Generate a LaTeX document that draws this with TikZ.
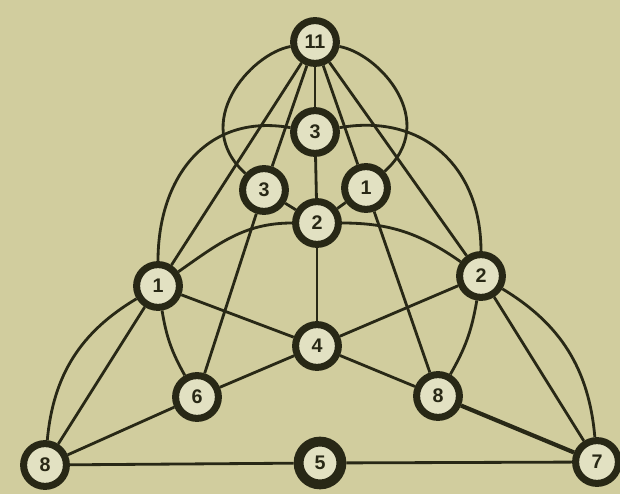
\documentclass[tikz,border=0pt]{standalone}
\usepackage{fontspec}
\setmainfont{Liberation Sans}
\usepackage{tikz}
\definecolor{paper}{RGB}{209,205,158}
\definecolor{ink}{RGB}{40,40,22}
\definecolor{disc}{RGB}{226,225,194}

\begin{document}
\begin{tikzpicture}[
  x=0.025cm, y=0.025cm,
  vtx/.style={circle, draw=ink, fill=disc, line width=5pt, minimum size=1.07cm, inner sep=0pt, text=ink, font=\fontsize{14}{14}\selectfont\bfseries},
  heavy/.style={vtx, line width=7pt},
  link/.style={draw=ink, line width=2pt},
  strong/.style={link, line width=3pt}
]
\fill[paper] (0,0) rectangle (620,494);
\useasboundingbox (0,0) rectangle (620,494);

\node[vtx] (top) at (315,452) {11};
\node[vtx] (mid3) at (315,362) {3};
\node[vtx] (left3) at (264,304) {3};
\node[vtx] (right1) at (366,306) {1};
\node[vtx] (mid2) at (317,271) {2};
\node[vtx] (left1) at (158,208) {1};
\node[vtx] (right2) at (481,218) {2};
\node[vtx] (centre) at (317,148) {4};
\node[vtx] (left6) at (197,97) {6};
\node[vtx] (right8) at (438,98) {8};
\node[vtx] (corner8) at (45,29) {8};
\node[heavy] (base5) at (320,31) {5};
\node[vtx] (corner7) at (597,32) {7};

\draw[link] (top) -- (left1);
\draw[link] (top) -- (left3);
\draw[link] (top) -- (mid3);
\draw[link] (top) -- (right1);
\draw[link] (top) -- (right2);
\draw[link] (top) .. controls +(-65,-12) and +(-74,66) .. (left3);
\draw[link] (top) .. controls +(65,-12) and +(74,66) .. (right1);
\draw[link] (mid3) to[out=170, in=90, looseness=1.15] (left1);
\draw[link] (mid3) to[out=10, in=90, looseness=1.15] (right2);
\draw[link] (mid3) -- (mid2);
\draw[link] (left3) -- (mid2);
\draw[link] (right1) -- (mid2);
\draw[link] (mid2) to[out=180, in=35] (left1);
\draw[link] (mid2) to[out=0, in=145] (right2);
\draw[link] (mid2) -- (centre);
\draw[link] (left3) -- (left6);
\draw[link] (right1) -- (right8);
\draw[link] (left1) -- (centre);
\draw[link] (right2) -- (centre);
\draw[link] (centre) -- (left6);
\draw[link] (centre) -- (right8);
\draw[link] (left1) to[bend right=10] (left6);
\draw[link] (right2) to[bend left=10] (right8);
\draw[link] (left1) -- (corner8);
\draw[link] (left1) to[bend right=27] (corner8);
\draw[link] (right2) -- (corner7);
\draw[link] (right2) to[bend left=27] (corner7);
\draw[link] (left6) -- (corner8);
\draw[strong] (right8) -- (corner7);
\draw[link] (corner8) -- (base5);
\draw[link] (base5) -- (corner7);
\end{tikzpicture}
\end{document}
